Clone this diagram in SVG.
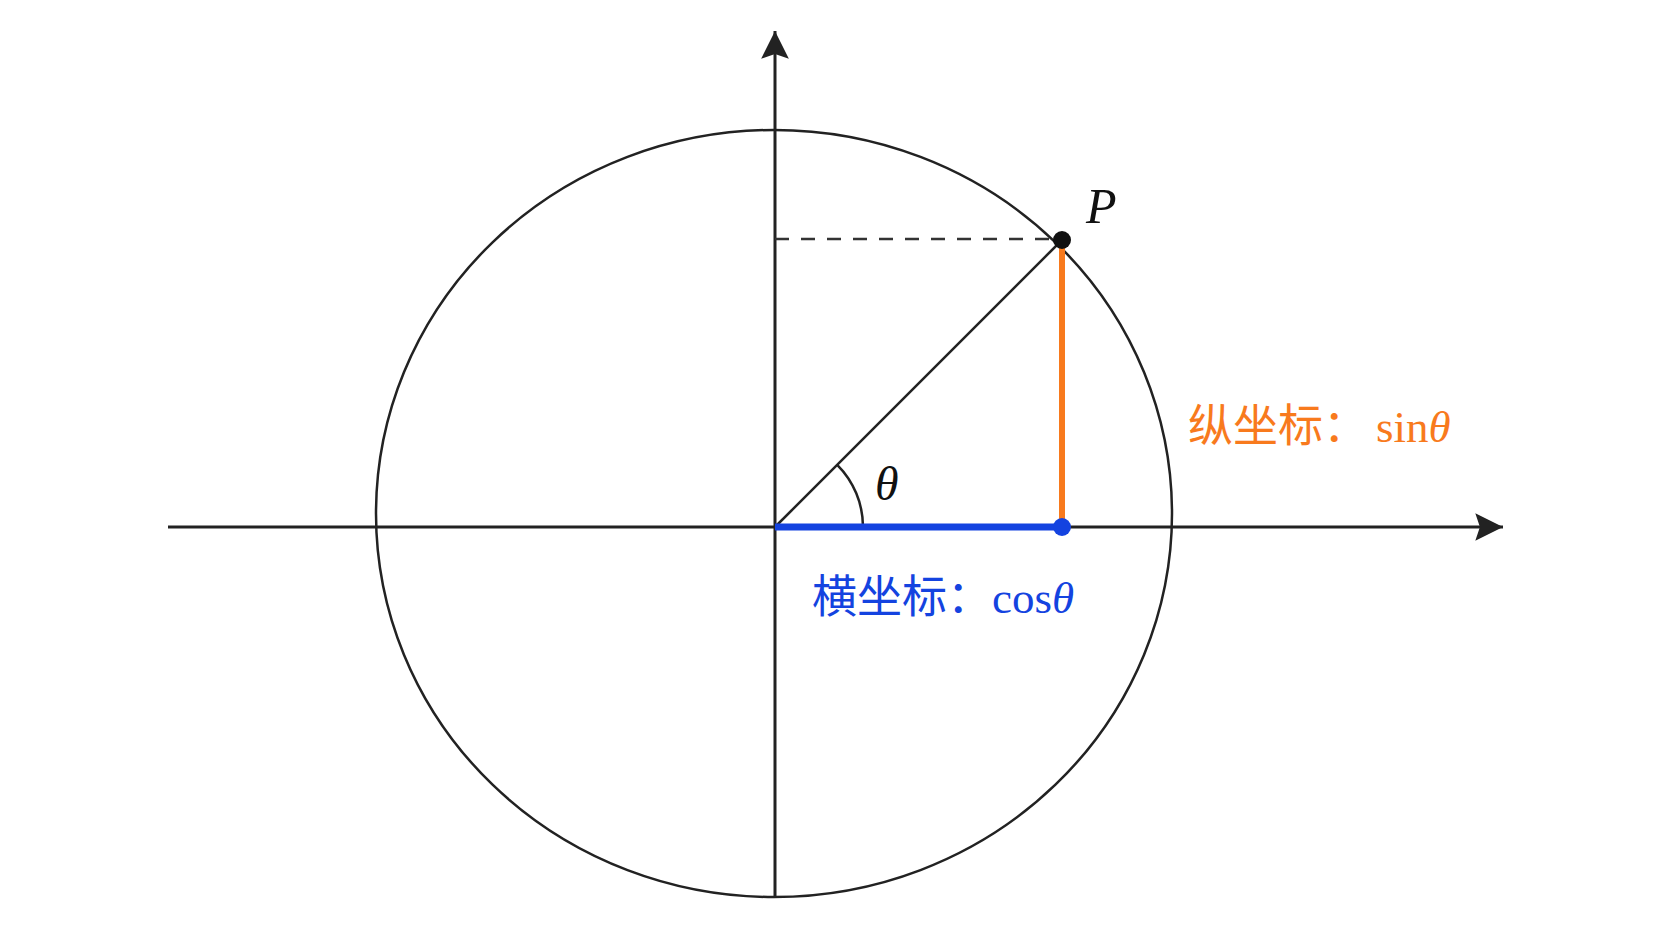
<svg xmlns="http://www.w3.org/2000/svg" width="1672" height="941" viewBox="0 0 1672 941">
  <style>
    .ax { stroke: #222; stroke-width: 3; fill: none; }
    .thin { stroke: #222; stroke-width: 2.5; fill: none; }
    .lbl { font-family: "Liberation Serif", "Noto Sans CJK SC", serif; font-size: 45px; }
    .it { font-style: italic; }
  </style>
  <defs>
    <marker id="arrow" markerUnits="userSpaceOnUse" markerWidth="30" markerHeight="30" viewBox="0 0 26 26" refX="24" refY="13" orient="auto">
      <path d="M0,1 L24,13 L0,25 L4,13 Z" fill="#222"/>
    </marker>
  </defs>
  <rect width="1672" height="941" fill="#ffffff"/>
  <g id="ellipse">
    <ellipse cx="774" cy="513.5" rx="398" ry="383.5" class="thin"/>
  </g>
  <g id="connectors">
    <line x1="168" y1="527" x2="1503" y2="527" class="ax" marker-end="url(#arrow)"/>
    <line x1="775" y1="897" x2="775" y2="31" class="ax" marker-end="url(#arrow)"/>
    <line x1="775" y1="239" x2="1055" y2="239" stroke="#333" stroke-width="2.5" stroke-dasharray="14 12"/>
    <line x1="775" y1="527" x2="1062" y2="240" class="thin"/>
    <path d="M863,527 A88,88 0 0 0 837.2,464.8" class="thin"/>
    <line x1="1062" y1="240" x2="1062" y2="527" stroke="#F87A1D" stroke-width="6"/>
    <line x1="775" y1="527" x2="1062" y2="527" stroke="#1443E0" stroke-width="7"/>
  </g>
  <g id="point-P">
    <circle cx="1062" cy="240" r="9" fill="#111"/>
    <text x="1086" y="223" class="lbl it" fill="#111" style="font-size:50px">P</text>
  </g>
  <g id="point-cos">
    <circle cx="1062" cy="527" r="9" fill="#1443E0"/>
  </g>
  <g id="angle-label">
    <text x="875" y="500" class="lbl it" fill="#111" style="font-size:48px">θ</text>
  </g>
  <g id="label-sin">
    <text x="1188" y="442" class="lbl" fill="#F87A1D">纵坐标：<tspan dx="8">sin</tspan><tspan class="it">θ</tspan></text>
  </g>
  <g id="label-cos">
    <text x="812" y="613" class="lbl" fill="#1443E0">横坐标：cos<tspan class="it">θ</tspan></text>
  </g>
</svg>
